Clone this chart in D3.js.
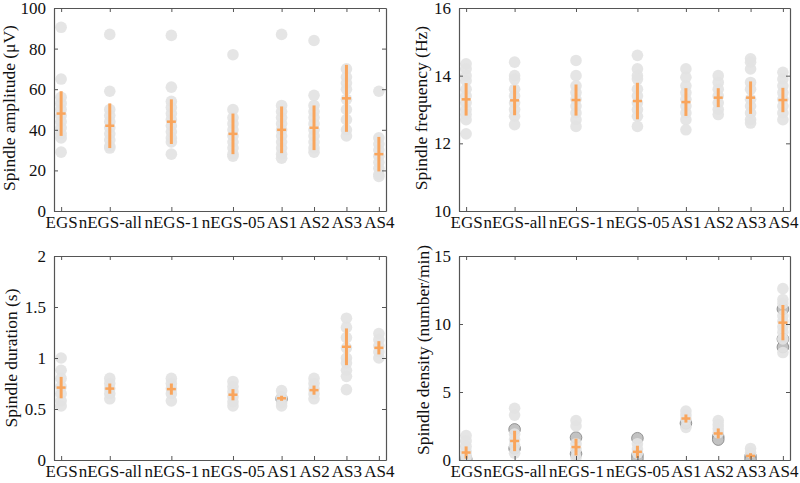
<!DOCTYPE html>
<html><head><meta charset="utf-8">
<script src="https://cdn.jsdelivr.net/npm/d3@7"></script>
<style>
body{margin:0;background:#fff;}
text{font-family:"Liberation Serif","Times New Roman",serif;fill:#111;}
</style></head>
<body><svg id="chart" width="800" height="483"></svg>
<script>
const groups = ["EGS","nEGS-all","nEGS-1","nEGS-05","AS1","AS2","AS3","AS4"];
const groupPos = [0, 1.5, 3.4, 5.3, 6.8, 7.8, 8.8, 9.8];

// Spindle amplitude (µV)
const ampPoints = [
  [90.5, 65, 56, 53, 50, 47, 44, 41, 38, 36, 29],
  [87, 59, 50, 47, 44, 41, 38, 35, 32, 31],
  [86.5, 61, 54, 51, 48, 45, 42, 39, 36, 34, 28],
  [77, 50, 46, 43, 40, 37, 34, 31, 28, 27],
  [87, 52, 49, 46, 43, 40, 37, 34, 31, 28, 26],
  [84, 57, 52, 49, 46, 43, 40, 37, 34, 31, 29],
  [70, 66, 63, 60, 55, 50, 45, 40, 37],
  [59, 36, 33, 30, 27, 24, 21, 18, 17]
];
const ampMean = [48, 42, 44, 38, 40, 41, 55.5, 28];
const ampSD   = [11, 11, 11, 10, 11.5, 11, 16.5, 8.5];
const ampTicks = [0, 20, 40, 60, 80, 100];

// Spindle frequency (Hz)
const freqPoints = [
  [14.35, 14.2, 14.0, 13.85, 13.6, 13.4, 13.2, 13.0, 12.85, 12.7, 12.28],
  [14.4, 14.0, 13.9, 13.6, 13.4, 13.2, 13.0, 12.8, 12.55],
  [14.45, 14.0, 13.7, 13.5, 13.3, 13.1, 12.9, 12.7, 12.5],
  [14.6, 14.2, 14.0, 13.9, 13.6, 13.4, 13.2, 13.0, 12.8, 12.5],
  [14.2, 13.95, 13.7, 13.5, 13.3, 13.1, 12.9, 12.7, 12.4],
  [14.0, 13.8, 13.6, 13.4, 13.2, 13.0, 12.85],
  [14.5, 14.4, 14.2, 13.8, 13.6, 13.3, 13.1, 12.9, 12.7, 12.6],
  [14.1, 13.9, 13.7, 13.5, 13.3, 13.1, 12.9, 12.7]
];
const freqMean = [13.3, 13.27, 13.28, 13.25, 13.22, 13.35, 13.35, 13.28];
const freqSD   = [0.48, 0.44, 0.46, 0.54, 0.41, 0.28, 0.48, 0.36];
const freqTicks = [10, 12, 14, 16];

// Spindle duration (s)
const durPoints = [
  [1.0, 0.88, 0.8, 0.72, 0.65, 0.58, 0.53],
  [0.8, 0.75, 0.7, 0.65, 0.6],
  [0.8, 0.75, 0.7, 0.65, 0.58],
  [0.77, 0.72, 0.67, 0.62, 0.57, 0.53],
  [0.68, 0.62, 0.56, 0.53],
  [0.8, 0.75, 0.7, 0.65, 0.6],
  [1.39, 1.3, 1.2, 1.1, 1.0, 0.95, 0.88, 0.82, 0.69],
  [1.24, 1.18, 1.12, 1.06, 1.0]
];
const durDark = [[], [], [], [], [0.6], [], [], []];
const durMean = [0.71, 0.70, 0.695, 0.64, 0.605, 0.685, 1.11, 1.1];
const durSD   = [0.105, 0.05, 0.055, 0.055, 0.025, 0.045, 0.18, 0.065];
const durTicks = [0, 0.5, 1, 1.5, 2];

// Spindle density (number/min)
const denPoints = [
  [1.8, 1.4, 1.0, 0.6, 0.3, 0.15],
  [3.8, 3.3, 1.9, 1.5, 1.1, 0.5],
  [2.9, 2.5, 1.2, 0.8, 0.2],
  [1.2, 0.8, 0.5],
  [3.6, 3.3, 3.0, 2.4],
  [2.9, 2.6, 2.3, 2.0],
  [0.85, 0.55],
  [12.6, 11.8, 11.5, 10.6, 10.2, 9.8, 9.4, 8.9, 7.9]
];
const denDark = [
  [0.1, 0.0],
  [2.25, 0.85],
  [1.65, 0.45],
  [1.6, 0.35, 0.1],
  [2.7],
  [1.7, 1.5],
  [0.25, 0.0],
  [11.1, 8.9, 8.3]
];
const denMean = [0.55, 1.4, 0.95, 0.6, 3.05, 1.95, 0.3, 10.1];
const denSD   = [0.45, 0.75, 0.62, 0.45, 0.3, 0.37, 0.2, 1.3];
const denTicks = [0, 5, 10, 15];

const svg = d3.select("#chart");
const ORANGE = "#f9a55c";
const LIGHT = "#e3e3e3";
const AXIS = "#555";

function panel(cfg){
  const {left, right, top, bottom, domain, ticks, label, labelX, labelY, points, dark, mean, sd} = cfg;
  const g = svg.append("g");
  const x = d3.scaleLinear().domain([-0.22, 10.02]).range([left, right]);
  const y = d3.scaleLinear().domain(domain).range([bottom, top]);

  const clip = "clip" + left + "_" + top;
  svg.append("clipPath").attr("id", clip).append("rect")
     .attr("x", left).attr("y", top).attr("width", right-left).attr("height", bottom-top);
  const pg = g.append("g").attr("clip-path", `url(#${clip})`);
  if (dark) {
    groups.forEach((grp, i) => {
      pg.selectAll(null).data(dark[i]).enter().append("circle")
        .attr("cx", x(groupPos[i])).attr("cy", d => y(d)).attr("r", 5.8)
        .attr("fill", "#c2c2c2").attr("stroke", "#8a8a8a").attr("stroke-width", 0.9);
    });
  }
  groups.forEach((grp, i) => {
    pg.selectAll(null).data(points[i]).enter().append("circle")
      .attr("cx", x(groupPos[i])).attr("cy", d => y(d)).attr("r", 5.8)
      .attr("fill", LIGHT).attr("fill-opacity", 0.92);
  });
  groups.forEach((grp, i) => {
    const cx = x(groupPos[i]);
    pg.append("line").attr("x1", cx).attr("x2", cx)
      .attr("y1", y(mean[i]-sd[i])).attr("y2", y(mean[i]+sd[i]))
      .attr("stroke", ORANGE).attr("stroke-width", 3);
    pg.append("line").attr("x1", cx-4.5).attr("x2", cx+4.5)
      .attr("y1", y(mean[i])).attr("y2", y(mean[i]))
      .attr("stroke", ORANGE).attr("stroke-width", 2.5);
  });

  const axL = d3.axisLeft(y).tickValues(ticks).tickSizeInner(-4).tickSizeOuter(0).tickPadding(8)
      .tickFormat(d3.format("~g"));
  const axR = d3.axisRight(y).tickValues(ticks).tickSizeInner(-4).tickSizeOuter(0).tickFormat("");
  const axB = d3.axisBottom(x).tickValues(groupPos).tickSizeInner(-4).tickSizeOuter(0).tickPadding(5)
      .tickFormat((d, i) => groups[i]);
  const axT = d3.axisTop(x).tickValues(groupPos).tickSizeInner(-4).tickSizeOuter(0).tickFormat("");
  const gl = g.append("g").attr("transform", `translate(${left},0)`).call(axL);
  const gr = g.append("g").attr("transform", `translate(${right},0)`).call(axR);
  const gb = g.append("g").attr("transform", `translate(0,${bottom})`).call(axB);
  const gt = g.append("g").attr("transform", `translate(0,${top})`).call(axT);
  [gl, gr, gb, gt].forEach(a => {
    a.selectAll(".domain").attr("stroke", AXIS).attr("stroke-width", 1.2);
    a.selectAll(".tick line").attr("stroke", AXIS);
    a.selectAll("text").attr("font-size", 17).attr("fill", "#111")
      .style("font-family", '"Liberation Serif", serif');
  });
  gb.selectAll("text").attr("dy", "0.72em");

  g.append("text").attr("transform", `translate(${labelX},${labelY}) rotate(-90)`)
    .attr("text-anchor", "middle").attr("font-size", 17.5).text(label);
}

panel({left:54, right:386, top:8, bottom:211, domain:[0,100], ticks:ampTicks,
  label:"Spindle amplitude (\u03bcV)", labelX:15, labelY:108,
  points:ampPoints, mean:ampMean, sd:ampSD});
panel({left:459, right:790, top:8, bottom:211, domain:[10,16], ticks:freqTicks,
  label:"Spindle frequency (Hz)", labelX:427, labelY:108,
  points:freqPoints, mean:freqMean, sd:freqSD});
panel({left:54, right:386, top:256, bottom:460, domain:[0,2], ticks:durTicks,
  label:"Spindle duration (s)", labelX:17, labelY:358,
  points:durPoints, dark:durDark, mean:durMean, sd:durSD});
panel({left:459, right:790, top:256, bottom:460, domain:[0,15], ticks:denTicks,
  label:"Spindle density (number/min)", labelX:429, labelY:350,
  points:denPoints, dark:denDark, mean:denMean, sd:denSD});
</script>
</body></html>
